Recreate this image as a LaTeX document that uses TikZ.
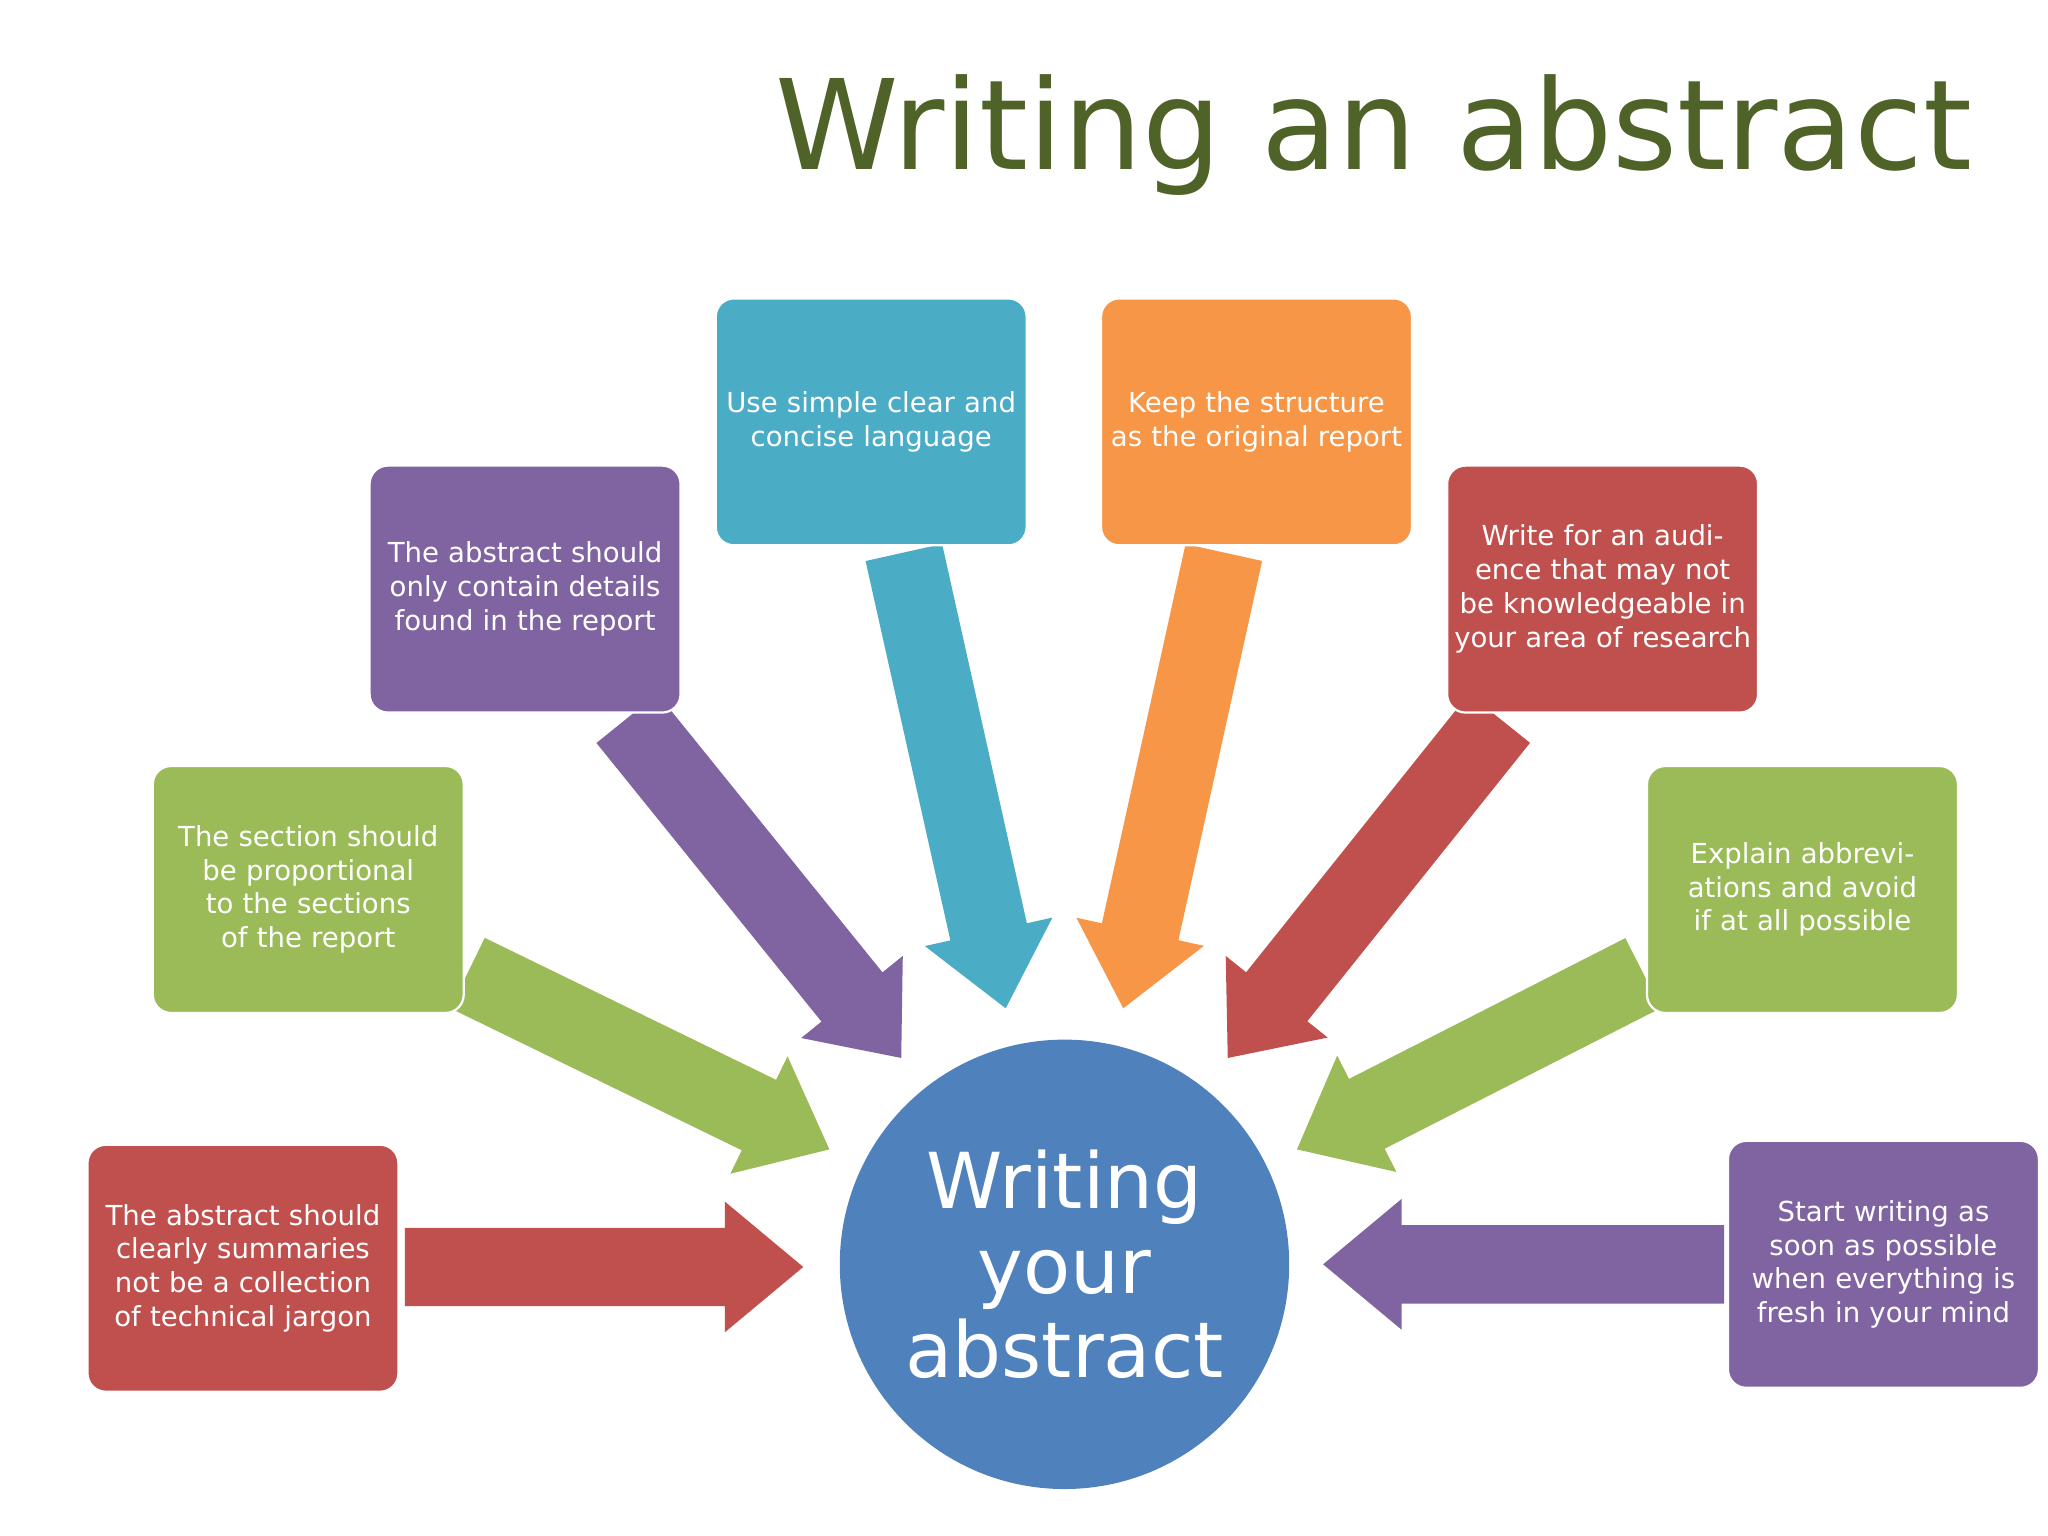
\documentclass[tikz,border=0pt]{standalone}
\usepackage{fontspec}
\setmainfont{DejaVu Sans}
\usetikzlibrary{calc}
\definecolor{cred}{HTML}{C0504D}
\definecolor{cgreen}{HTML}{9BBB59}
\definecolor{cpurple}{HTML}{8064A2}
\definecolor{cblue}{HTML}{4BACC6}
\definecolor{corange}{HTML}{F79646}
\definecolor{ccircle}{HTML}{4F81BD}
\definecolor{ctitle}{HTML}{4F6228}
\tikzset{
  tipbox/.style={draw=white, line width=1.2pt, rounded corners=0.35cm, minimum width=5.95cm, minimum height=4.725cm, text width=5.7cm, align=center, text=white, font=\fontsize{15pt}{18.4pt}\selectfont, inner sep=0pt},
}
\newcommand\fatarr[3]{%
  \coordinate (hh) at ($(#2)!1.5cm!(#1)$);
  \fill[#3] ($(#1)!0.75cm!90:(#2)$) -- ($(hh)!0.75cm!90:(#2)$) -- ($(hh)!1.25cm!90:(#2)$) -- (#2)
    -- ($(hh)!1.25cm!-90:(#2)$) -- ($(hh)!0.75cm!-90:(#2)$) -- ($(#1)!0.75cm!-90:(#2)$) -- cycle;}
\begin{document}
\begin{tikzpicture}[x=0.025cm,y=-0.025cm]
\useasboundingbox[fill=white] (0,0) rectangle (1568,1176);
\node[anchor=base east, text=ctitle, font=\fontsize{68pt}{70pt}\selectfont, inner sep=0pt] (title) at (1510,130) {Writing an abstract};
% arrows
\coordinate (s1) at (310,970); \coordinate (t1) at (615,970);
\coordinate (s2) at (358,745); \coordinate (t2) at (635,880);
\coordinate (s3) at (480,550); \coordinate (t3) at (690,810);
\coordinate (s4) at (692,423); \coordinate (t4) at (770,772);
\coordinate (s5) at (937,423); \coordinate (t5) at (860,772);
\coordinate (s6) at (1148,550); \coordinate (t6) at (940,810);
\coordinate (s7) at (1258,745); \coordinate (t7) at (993,880);
\coordinate (s8) at (1320,968); \coordinate (t8) at (1013,968);
\fatarr{s1}{t1}{cred}
\fatarr{s2}{t2}{cgreen}
\fatarr{s3}{t3}{cpurple}
\fatarr{s4}{t4}{cblue}
\fatarr{s5}{t5}{corange}
\fatarr{s6}{t6}{cred}
\fatarr{s7}{t7}{cgreen}
\fatarr{s8}{t8}{cpurple}
% boxes
\node[tipbox, fill=cred] (b1) at (186,971) {The abstract should clearly summaries not be a collection of technical jargon};
\node[tipbox, fill=cgreen] (b2) at (236,681) {The section should be proportional to the sections of the report};
\node[tipbox, fill=cpurple] (b3) at (402,451) {The abstract should only contain details found in the report};
\node[tipbox, fill=cblue] (b4) at (667,323) {Use simple clear and concise language};
\node[tipbox, fill=corange] (b5) at (962,323) {Keep the structure as the original report};
\node[tipbox, fill=cred] (b6) at (1227,451) {Write for an audience that may not be knowledgeable in your area of research};
\node[tipbox, fill=cgreen] (b7) at (1380,681) {Explain abbreviations and avoid if at all possible};
\node[tipbox, fill=cpurple] (b8) at (1442,968) {Start writing as soon as possible when everything is fresh in your mind};
\node[circle, fill=ccircle, minimum size=8.6cm, text=white, align=center, font=\fontsize{42pt}{46pt}\selectfont, inner sep=0pt] (c) at (815,968) {Writing\\your\\abstract};
\end{tikzpicture}
\end{document}
